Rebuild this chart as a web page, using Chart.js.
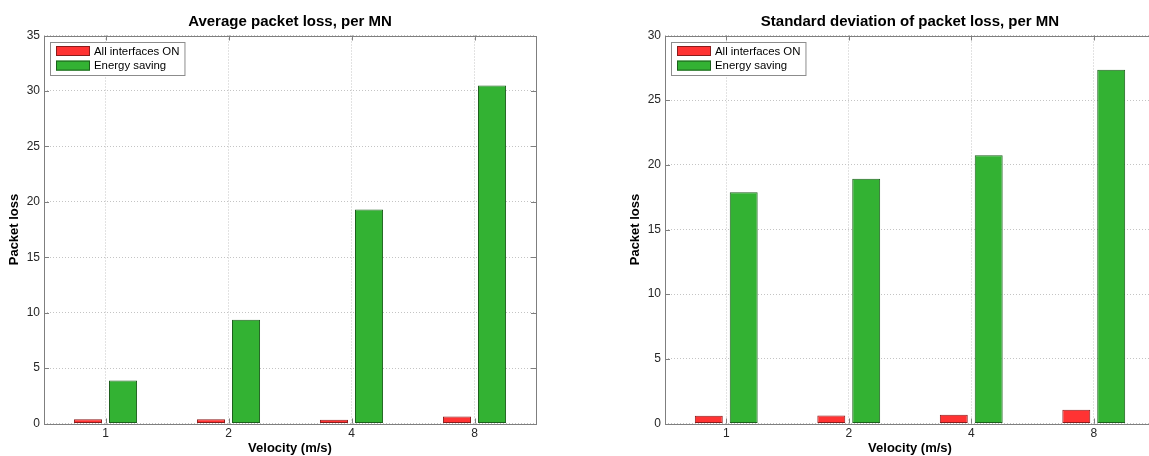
<!DOCTYPE html>
<html>
<head>
<meta charset="utf-8">
<script src="https://cdn.jsdelivr.net/npm/chart.js"></script>
<style>
  html, body { margin: 0; padding: 0; background: #fff; overflow: hidden; }
  #wrap { position: relative; width: 1149px; height: 456px; overflow: hidden; }
  #leftBox { position: absolute; left: 0; top: 0; }
  #rightBox { position: absolute; left: 575px; top: 0; }
</style>
</head>
<body>
<div id="wrap">
  <div id="leftBox"><canvas id="avgChart" width="575" height="456"></canvas></div>
  <div id="rightBox"><canvas id="stdChart" width="600" height="456"></canvas></div>
</div>
<script>
var velocities = ['1', '2', '4', '8'];
var seriesNames = ['All interfaces ON', 'Energy saving'];
var avgAllOn = [0.39, 0.39, 0.34, 0.64];
var avgSaving = [3.87, 9.35, 19.3, 30.5];
var stdAllOn = [0.59, 0.62, 0.67, 1.06];
var stdSaving = [17.88, 18.93, 20.74, 27.35];
var avgTicks = [0, 5, 10, 15, 20, 25, 30, 35];
var stdTicks = [0, 5, 10, 15, 20, 25, 30];

Chart.defaults.font.family = "'Liberation Sans', Arial, sans-serif";
Chart.defaults.color = '#262626';
Chart.defaults.animation = false;

var redFill = '#ff3333', redEdge = '#8a1c1c';
var greenFill = '#33b233', greenEdge = '#1d5f1d';
var axisGray = '#7f7f7f';
var gridGray = '#c4c4c4';

// matlab look: full box, inward tick marks, legend box in the corner
var matlabBox = {
  id: 'matlabBox',
  afterDraw: function(chart) {
    var ctx = chart.ctx, a = chart.chartArea;
    var xs = chart.scales.x, ys = chart.scales.y;
    ctx.save();
    ctx.strokeStyle = axisGray;
    ctx.lineWidth = 1;
    ctx.beginPath();
    ys.ticks.forEach(function(t, i) {
      var py = Math.round(ys.getPixelForTick(i)) + 0.5;
      ctx.moveTo(a.left, py); ctx.lineTo(a.left + 5, py);
      ctx.moveTo(a.right, py); ctx.lineTo(a.right - 5, py);
    });
    xs.ticks.forEach(function(t, i) {
      var px = Math.round(xs.getPixelForTick(i)) + 0.5;
      ctx.moveTo(px, a.bottom); ctx.lineTo(px, a.bottom - 5);
      ctx.moveTo(px, a.top); ctx.lineTo(px, a.top + 5);
    });
    ctx.stroke();
    ctx.strokeRect(Math.round(a.left) + 0.5, Math.round(a.top) + 0.5,
      Math.round(a.right - a.left), Math.round(a.bottom - a.top));

    var sets = chart.data.datasets;
    ctx.font = "11.4px 'Liberation Sans', Arial, sans-serif";
    var tw = 0;
    sets.forEach(function(d) { tw = Math.max(tw, ctx.measureText(d.label).width); });
    var bx = Math.round(a.left) + 6, by = Math.round(a.top) + 6;
    ctx.fillStyle = '#fff';
    ctx.fillRect(bx, by, 44 + tw + 5, 33);
    ctx.strokeStyle = '#8c8c8c';
    ctx.strokeRect(bx + 0.5, by + 0.5, 44 + tw + 5, 33);
    sets.forEach(function(d, i) {
      var sy = by + 4 + i * 14.6;
      ctx.fillStyle = d.backgroundColor;
      ctx.fillRect(bx + 6, sy, 34, 10);
      ctx.strokeStyle = d.borderColor;
      ctx.strokeRect(bx + 6.5, sy + 0.5, 33, 9);
      ctx.fillStyle = '#000';
      ctx.textBaseline = 'middle';
      ctx.fillText(d.label, bx + 44, sy + 5.5);
    });
    ctx.restore();
  }
};

function makeChart(id, title, allOn, saving, yTicks, yMax, padLeft, padRight, yWidth, yTitlePad) {
  return new Chart(document.getElementById(id).getContext('2d'), {
    type: 'bar',
    data: {
      labels: velocities,
      datasets: [{
        label: seriesNames[0],
        data: allOn,
        backgroundColor: redFill,
        borderColor: redEdge,
        borderWidth: 1,
        borderSkipped: false,
        categoryPercentage: 0.57,
        barPercentage: 0.8
      }, {
        label: seriesNames[1],
        data: saving,
        backgroundColor: greenFill,
        borderColor: greenEdge,
        borderWidth: 1,
        borderSkipped: false,
        categoryPercentage: 0.57,
        barPercentage: 0.8
      }]
    },
    options: {
      responsive: false,
      layout: { padding: { left: padLeft, right: padRight, top: 0, bottom: 0 } },
      plugins: {
        legend: { display: false },
        tooltip: { enabled: false },
        title: {
          display: true,
          text: title,
          fullSize: false,
          color: '#000',
          font: { size: 15, weight: 'bold' },
          padding: { top: 13, bottom: 4.5 }
        }
      },
      scales: {
        x: {
          grid: { offset: false, color: gridGray, drawTicks: false },
          border: { display: false, dash: [1, 2] },
          ticks: { padding: 3, font: { size: 12 } },
          title: { display: true, text: 'Velocity (m/s)', color: '#000',
                   font: { size: 13, weight: 'bold' }, padding: { top: 0, bottom: 0 } },
          afterFit: function(s) { s.height = 32.5; }
        },
        y: {
          min: 0,
          max: yMax,
          grid: { color: gridGray, drawTicks: false },
          border: { display: false, dash: [1, 2] },
          ticks: { padding: 4, font: { size: 12 } },
          afterBuildTicks: function(s) { s.ticks = yTicks.map(function(v) { return { value: v }; }); },
          title: { display: true, text: 'Packet loss', color: '#000',
                   font: { size: 13, weight: 'bold' }, padding: { top: yTitlePad, bottom: 0 } },
          afterFit: function(s) { s.width = yWidth; }
        }
      }
    },
    plugins: [matlabBox]
  });
}

makeChart('avgChart', 'Average packet loss, per MN', avgAllOn, avgSaving, avgTicks, 35, 0, 39, 44, 7);
makeChart('stdChart', 'Standard deviation of packet loss, per MN', stdAllOn, stdSaving, stdTicks, 30, 48, 20, 42, 5);
</script>
</body>
</html>
